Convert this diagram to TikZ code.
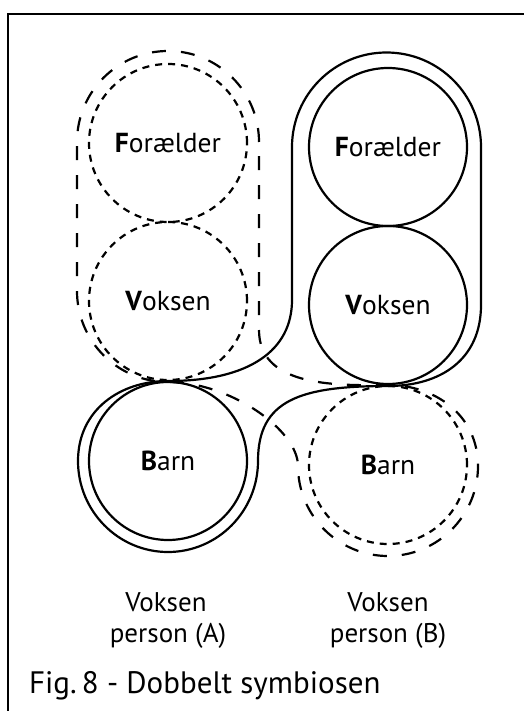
\documentclass[tikz,border=0pt]{standalone}
\usepackage{fontspec}
\setmainfont{PT Sans}
\begin{document}
\begin{tikzpicture}[x=1pt,y=-1pt,line width=2.2pt,
  sdash/.style={dash pattern=on 7pt off 6pt},
  ldash/.style={dash pattern=on 14pt off 15pt},
  ring/.style={circle,minimum size=158pt,inner sep=0pt,draw,font=\fontsize{27.5}{30}\selectfont},
  sub/.style={anchor=base,inner sep=0pt,font=\fontsize{27}{30}\selectfont}]
\useasboundingbox (0,0) rectangle (523,711);
% frame
\draw[line width=1.8pt] (8,712) -- (8,14) -- (524,14);
% circles
\node[ring,sdash] (FA) at (168,143) {\textbf{F}orælder};
\node[ring,sdash] (VA) at (168,301) {\textbf{V}oksen};
\node[ring] (BA) at (168,461) {\textbf{B}arn};
\node[ring] (FB) at (388,147) {\textbf{F}orælder};
\node[ring] (VB) at (388,305) {\textbf{V}oksen};
\node[ring,sdash] (BB) at (388,465) {\textbf{B}arn};
% envelope A (dashed)
\draw[ldash] (259,142) .. controls (259,91.7) and (218.3,51) .. (168,51)
  .. controls (117.7,51) and (77,91.7) .. (77,142)
  -- (77,291)
  .. controls (77,341.3) and (117.7,382) .. (168,382)
  .. controls (230,382) and (298,430) .. (298,466)
  .. controls (298,515.7) and (338.3,556) .. (388,556)
  .. controls (437.7,556) and (478,515.7) .. (478,466)
  .. controls (478,415) and (435,385) .. (388,385)
  .. controls (330,386) and (259,385) .. (259,330)
  -- cycle;
% envelope B (solid)
\draw (292,147) .. controls (292,94.8) and (334.3,52.5) .. (386.5,52.5)
  .. controls (438.7,52.5) and (481,94.8) .. (481,147)
  -- (481,305)
  .. controls (481,360) and (440,386) .. (388,386)
  .. controls (300,386) and (258,400) .. (258,461)
  .. controls (258,511.2) and (217.7,552) .. (168,552)
  .. controls (118.3,552) and (78,511.2) .. (78,461)
  .. controls (78,410) and (120,381) .. (168,381)
  .. controls (250,381) and (292,350) .. (292,300)
  -- cycle;
% labels
\node[sub] (LA1) at (166,611) {Voksen};
\node[sub] (LA2) at (168,642) {person (A)};
\node[sub] (LB1) at (388,611) {Voksen};
\node[sub] (LB2) at (388,642) {person (B)};
\node[anchor=base west,inner sep=0pt,font=\fontsize{31}{34}\selectfont] (CAP) at (28,693) {Fig.\,8 - Dobbelt symbiosen};
\end{tikzpicture}
\end{document}
